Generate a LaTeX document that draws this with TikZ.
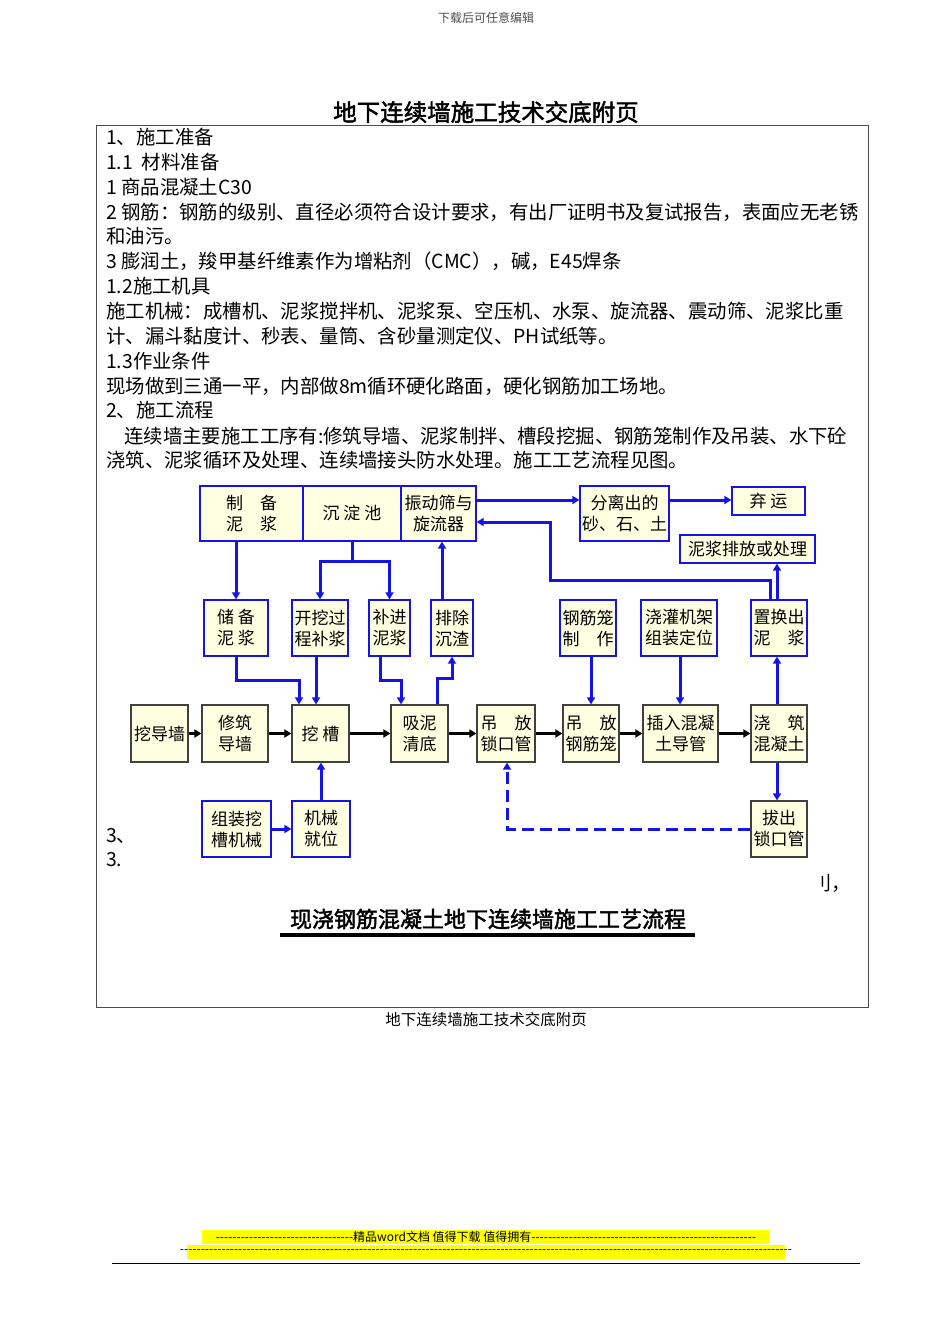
\documentclass[tikz,border=0pt]{standalone}
\usepackage{fontspec}
\setmainfont{Noto Sans CJK SC}
\newfontfamily\cjkb[FakeBold=2]{Noto Sans CJK SC}
\usetikzlibrary{arrows.meta}
\definecolor{bl}{RGB}{20,20,230}
\definecolor{bfill}{RGB}{255,255,225}
\definecolor{hl}{RGB}{255,255,0}
\tikzset{
 bx/.style={draw=#1,line width=1.2pt,fill=bfill,align=center,inner sep=0pt,font=\fontsize{17}{21}\selectfont},
 bx/.default={black!75},
 ba/.style={bl,line width=3pt,-{Triangle[length=7pt,width=8pt]}},
 bn/.style={bl,line width=3pt},
 ka/.style={black,line width=3pt,-{Triangle[length=7pt,width=8pt]}},
 tl/.style={anchor=base west,inner sep=0pt,font=\fontsize{19.4}{20}\selectfont},
}
\newcommand\mybox[7][black!75]{\node[bx=#1,minimum width={#5-#3},minimum height={#6-#4}] (#2) at ({(#3+#5)/2},{(#4+#6)/2}) {#7};}
\begin{document}
\begin{tikzpicture}[x=1pt,y=-1pt]
\useasboundingbox (0,0) rectangle (950,1344);
\node[font=\fontsize{12}{12}\selectfont,text=black!70] (hd) at (486,18) {下载后可任意编辑};
\node[font=\cjkb\fontsize{23.5}{24}\selectfont] (title) at (486,112) {地下连续墙施工技术交底附页};
\draw[black!70,line width=0.8pt] (96,125) rectangle (868,1007);
\node[tl] (l1) at (106,144) {1、施工准备};
\node[tl] (l2) at (106,169) {1.1\ \ 材料准备};
\node[tl] (l3) at (106,194) {1 商品混凝土C30};
\node[tl] (l4) at (106,219) {2 钢筋：钢筋的级别、直径必须符合设计要求，有出厂证明书及复试报告，表面应无老锈};
\node[tl] (l5) at (106,243) {和油污。};
\node[tl] (l6) at (106,268) {3 膨润土，羧甲基纤维素作为增粘剂（CMC），碱，E45焊条};
\node[tl] (l7) at (106,293) {1.2施工机具};
\node[tl] (l8) at (106,318) {施工机械：成槽机、泥浆搅拌机、泥浆泵、空压机、水泵、旋流器、震动筛、泥浆比重};
\node[tl] (l9) at (106,343) {计、漏斗黏度计、秒表、量筒、含砂量测定仪、PH试纸等。};
\node[tl] (l10) at (106,368) {1.3作业条件};
\node[tl] (l11) at (106,393) {现场做到三通一平，内部做8m循环硬化路面，硬化钢筋加工场地。};
\node[tl] (l12) at (106,417) {2、施工流程};
\node[tl] (l13) at (124,443) {连续墙主要施工工序有:修筑导墙、泥浆制拌、槽段挖掘、钢筋笼制作及吊装、水下砼};
\node[tl] (l14) at (106,467) {浇筑、泥浆循环及处理、连续墙接头防水处理。施工工艺流程见图。};
\node[tl] (l15) at (106,842) {3、};
\node[tl] (l16) at (106,866) {3.};
\node[tl] (l17) at (812,890) {刂，};
% boxes
\mybox[bl]{zb}{200}{486}{303}{541}{制\quad 备\\泥\quad 浆}
\mybox[bl]{cd}{303}{486}{401}{541}{沉 淀 池}
\mybox[bl]{zd}{401}{486}{476}{541}{振动筛与\\旋流器}
\mybox[bl]{fl}{580}{486}{669}{541}{分离出的\\砂、石、土}
\mybox[bl]{qy}{732}{487}{805}{515}{弃 运}
\mybox[bl]{pf}{680}{535}{815}{563}{泥浆排放或处理}
\mybox[bl]{cb}{204}{600}{268}{656}{储 备\\泥 浆}
\mybox[bl]{kw}{292}{600}{348}{656}{开挖过\\程补浆}
\mybox[bl]{bj}{369}{600}{410}{656}{补进\\泥浆}
\mybox[bl]{pc}{431}{600}{473}{656}{排除\\沉渣}
\mybox[bl]{gz}{560}{600}{616}{656}{钢筋笼\\制\quad 作}
\mybox[bl]{jj}{641}{600}{717}{656}{浇灌机架\\组装定位}
\mybox[bl]{zh}{751}{600}{807}{656}{置换出\\泥\quad 浆}
\mybox{wd}{131}{705}{188}{762}{挖导墙}
\mybox{xz}{202}{705}{268}{762}{修筑\\导墙}
\mybox{wc}{292}{705}{349}{762}{挖 槽}
\mybox{xn}{391}{705}{448}{762}{吸泥\\清底}
\mybox{ds}{477}{705}{535}{762}{吊\quad 放\\锁口管}
\mybox{dg}{563}{705}{619}{762}{吊\quad 放\\钢筋笼}
\mybox{cr}{643}{705}{718}{762}{插入混凝\\土导管}
\mybox{jz}{751}{705}{807}{762}{浇\quad 筑\\混凝土}
\mybox[bl]{zz}{202}{801}{271}{857}{组装挖\\槽机械}
\mybox[bl]{jx}{292}{801}{350}{857}{机械\\就位}
\mybox{bc}{751}{801}{807}{857}{拔出\\锁口管}
% blue connectors
\draw[ba] (zb.south -| cb.north) -- (cb.north);
\coordinate (c1) at (352,561);
\draw[bn] (cd.south -| c1) -- (c1);
\draw[ba] (c1) -| (kw.north);
\draw[ba] (c1) -| (bj.north);
\draw[ba] (pc.north -| 442,0) -- (zd.south -| 442,0);
\draw[ba] (zd.east |- 0,500) -- (fl.west |- 0,500);
\draw[ba] (fl.east |- 0,500) -- (qy.west |- 0,500);
\coordinate (c2) at (550,580);
\draw[ba] (zh.north -| 770,0) |- (c2) |- (zd.east |- 0,522);
\draw[ba] (zh.north -| 777,0) -- (pf.south -| 777,0);
\coordinate (c3) at (236,680);
\draw[ba] (cb.south -| c3) -- (c3) -| (wc.north -| 299,0);
\draw[ba] (kw.south -| 316,0) -- (wc.north -| 316,0);
\coordinate (c4) at (380,680);
\draw[ba] (bj.south -| c4) -- (c4) -| (xn.north -| 401,0);
\coordinate (c5) at (437,678);
\draw[ba] (xn.north -| c5) -- (c5) -| (pc.south -| 452,0);
\draw[ba] (gz.south -| 591,0) -- (dg.north -| 591,0);
\draw[ba] (jj.south -| 680,0) -- (cr.north -| 680,0);
\draw[ba] (jz.north -| 777,0) -- (zh.south -| 777,0);
\draw[ba] (jz.south -| 777,0) -- (bc.north -| 777,0);
\draw[ba] (jx.north -| 321,0) -- (wc.south -| 321,0);
\draw[ba] (zz) -- (jx);
\draw[ba,dashed,dash pattern=on 12pt off 6pt] (bc.west |- 0,829) -| (ds.south -| 507,0);
% black connectors
\draw[ka] (wd) -- (xz);
\draw[ka] (xz) -- (wc);
\draw[ka] (wc) -- (xn);
\draw[ka] (xn) -- (ds);
\draw[ka] (ds) -- (dg);
\draw[ka] (dg) -- (cr);
\draw[ka] (cr) -- (jz);
% caption
\node[font=\cjkb\fontsize{22}{22}\selectfont] (cap) at (488,919) {现浇钢筋混凝土地下连续墙施工工艺流程};
\draw[line width=4pt] (280,935) -- (695,935);
\node[font=\fontsize{15.5}{16}\selectfont] (ft) at (486,1020) {地下连续墙施工技术交底附页};
% footer bars
\fill[hl] (202,1230) rectangle (770,1244);
\fill[hl] (187,1245) rectangle (785,1259);
\node[inner sep=0pt,font=\fontsize{12}{12}\selectfont] (f1) at (486,1237) {-{}-{}-{}-{}-{}-{}-{}-{}-{}-{}-{}-{}-{}-{}-{}-{}-{}-{}-{}-{}-{}-{}-{}-{}-{}-{}-{}-{}-{}-{}-{}-{}-精品word文档 值得下载 值得拥有-{}-{}-{}-{}-{}-{}-{}-{}-{}-{}-{}-{}-{}-{}-{}-{}-{}-{}-{}-{}-{}-{}-{}-{}-{}-{}-{}-{}-{}-{}-{}-{}-{}-{}-{}-{}-{}-{}-{}-{}-{}-{}-{}-{}-{}-{}-{}-{}-{}-{}-{}-{}-{}-};
\node[inner sep=0pt,font=\fontsize{12}{12}\selectfont] (f2) at (486,1252) {-{}-{}-{}-{}-{}-{}-{}-{}-{}-{}-{}-{}-{}-{}-{}-{}-{}-{}-{}-{}-{}-{}-{}-{}-{}-{}-{}-{}-{}-{}-{}-{}-{}-{}-{}-{}-{}-{}-{}-{}-{}-{}-{}-{}-{}-{}-{}-{}-{}-{}-{}-{}-{}-{}-{}-{}-{}-{}-{}-{}-{}-{}-{}-{}-{}-{}-{}-{}-{}-{}-{}-{}-{}-{}-{}-{}-{}-{}-{}-{}-{}-{}-{}-{}-{}-{}-{}-{}-{}-{}-{}-{}-{}-{}-{}-{}-{}-{}-{}-{}-{}-{}-{}-{}-{}-{}-{}-{}-{}-{}-{}-{}-{}-{}-{}-{}-{}-{}-{}-{}-{}-{}-{}-{}-{}-{}-{}-{}-{}-{}-{}-{}-{}-{}-{}-{}-{}-{}-{}-{}-{}-{}-{}-{}-{}-{}-};
\draw[line width=0.8pt] (112,1263) -- (860,1263);
\end{tikzpicture}
\end{document}
